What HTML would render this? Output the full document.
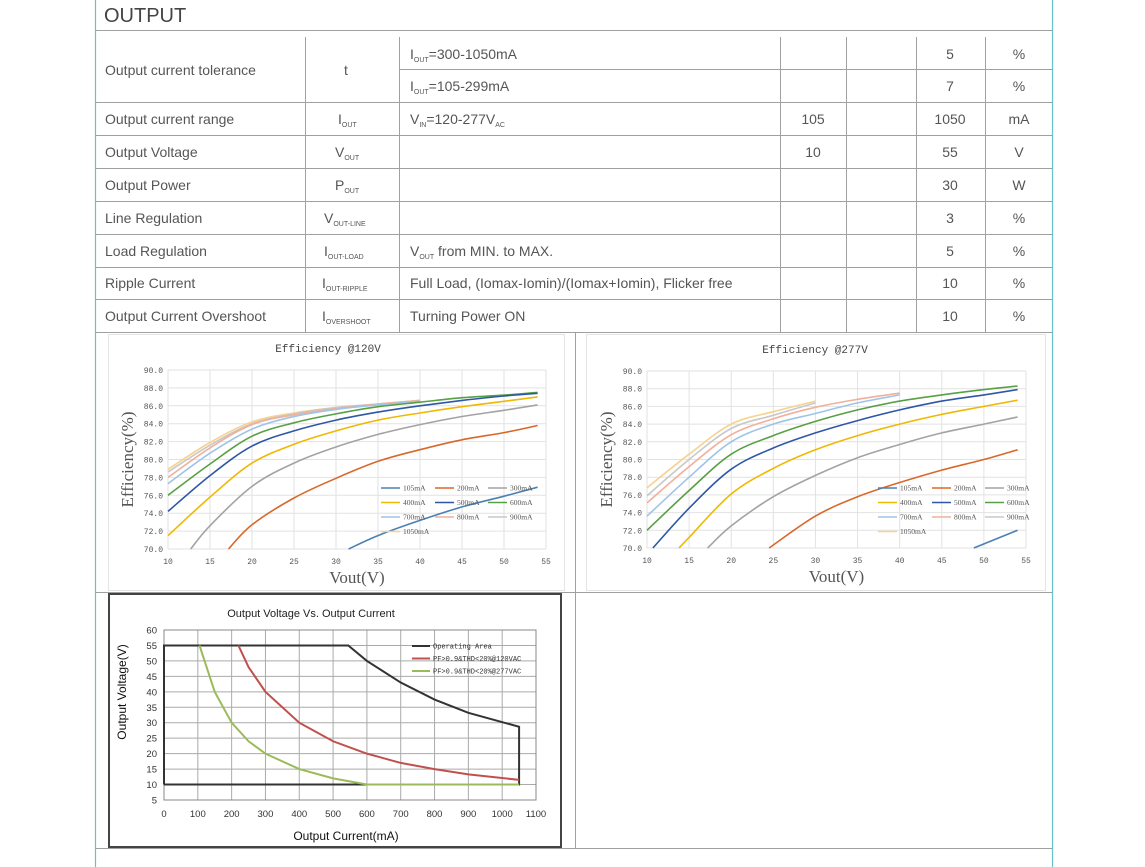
<!DOCTYPE html>
<html><head><meta charset="utf-8"><style>
html,body{margin:0;padding:0;background:#fff;}
svg{display:block;}
.t{font-family:"Liberation Sans",sans-serif;font-size:14px;fill:#555;}
.s{font-size:7px;}
.tk{font-family:"Liberation Mono",monospace;font-size:8px;fill:#555;}
.lg{font-family:"Liberation Serif",serif;font-size:7.5px;fill:#555;}
</style></head><body>
<svg id="s" width="1145" height="867" xmlns="http://www.w3.org/2000/svg">
<rect width="1145" height="867" fill="#fff"/>
<g stroke="#63c3c9" stroke-width="1.2"><line x1="95.5" y1="0" x2="95.5" y2="867"/><line x1="1052.5" y1="0" x2="1052.5" y2="867"/></g>
<g stroke="#a0a0a0" stroke-width="1">
<line x1="95" y1="30.5" x2="1052" y2="30.5"/>
<line x1="399" y1="69.5" x2="1052" y2="69.5"/>
<line x1="95" y1="102.5" x2="1052" y2="102.5"/>
<line x1="95" y1="135.5" x2="1052" y2="135.5"/>
<line x1="95" y1="168.5" x2="1052" y2="168.5"/>
<line x1="95" y1="201.5" x2="1052" y2="201.5"/>
<line x1="95" y1="234.5" x2="1052" y2="234.5"/>
<line x1="95" y1="267.5" x2="1052" y2="267.5"/>
<line x1="95" y1="299.5" x2="1052" y2="299.5"/>
<line x1="95" y1="332.5" x2="1052" y2="332.5"/>
<line x1="305.5" y1="37" x2="305.5" y2="332"/>
<line x1="399.5" y1="37" x2="399.5" y2="332"/>
<line x1="780.5" y1="37" x2="780.5" y2="332"/>
<line x1="846.5" y1="37" x2="846.5" y2="332"/>
<line x1="916.5" y1="37" x2="916.5" y2="332"/>
<line x1="985.5" y1="37" x2="985.5" y2="332"/>
<line x1="95" y1="592.5" x2="1052" y2="592.5"/>
<line x1="575.5" y1="332" x2="575.5" y2="848"/>
<line x1="95" y1="848.5" x2="1052" y2="848.5"/>
</g>
<text x="104" y="22" class="t" style="font-size:20px;fill:#444">OUTPUT</text>
<g class="t">
<text x="105" y="75">Output current tolerance</text>
<text x="344" y="75">t</text>
<text x="410" y="59">I<tspan class="s" dy="3">OUT</tspan><tspan dy="-3">=300-1050mA</tspan></text>
<text x="410" y="91">I<tspan class="s" dy="3">OUT</tspan><tspan dy="-3">=105-299mA</tspan></text>
<text x="950" y="59" text-anchor="middle">5</text><text x="1019" y="59" text-anchor="middle">%</text>
<text x="950" y="91" text-anchor="middle">7</text><text x="1019" y="91" text-anchor="middle">%</text>
<text x="105" y="124">Output current range</text>
<text x="338" y="124">I<tspan class="s" dy="3">OUT</tspan></text>
<text x="410" y="124">V<tspan class="s" dy="3">IN</tspan><tspan dy="-3">=120-277V</tspan><tspan class="s" dy="3">AC</tspan></text>
<text x="813" y="124" text-anchor="middle">105</text><text x="950" y="124" text-anchor="middle">1050</text><text x="1019" y="124" text-anchor="middle">mA</text>
<text x="105" y="157">Output Voltage</text>
<text x="335" y="157">V<tspan class="s" dy="3">OUT</tspan></text>
<text x="813" y="157" text-anchor="middle">10</text><text x="950" y="157" text-anchor="middle">55</text><text x="1019" y="157" text-anchor="middle">V</text>
<text x="105" y="190">Output Power</text>
<text x="335" y="190">P<tspan class="s" dy="3">OUT</tspan></text>
<text x="950" y="190" text-anchor="middle">30</text><text x="1019" y="190" text-anchor="middle">W</text>
<text x="105" y="223">Line Regulation</text>
<text x="324" y="223">V<tspan class="s" dy="3">OUT-LINE</tspan></text>
<text x="950" y="223" text-anchor="middle">3</text><text x="1019" y="223" text-anchor="middle">%</text>
<text x="105" y="256">Load Regulation</text>
<text x="324" y="256">I<tspan class="s" dy="3">OUT-LOAD</tspan></text>
<text x="410" y="256">V<tspan class="s" dy="3">OUT</tspan><tspan dy="-3"> from MIN. to MAX.</tspan></text>
<text x="950" y="256" text-anchor="middle">5</text><text x="1019" y="256" text-anchor="middle">%</text>
<text x="105" y="288">Ripple Current</text>
<text x="322" y="288">I<tspan class="s" dy="3">OUT-RIPPLE</tspan></text>
<text x="410" y="288">Full Load, (Iomax-Iomin)/(Iomax+Iomin), Flicker free</text>
<text x="950" y="288" text-anchor="middle">10</text><text x="1019" y="288" text-anchor="middle">%</text>
<text x="105" y="321">Output Current Overshoot</text>
<text x="322" y="321">I<tspan class="s" dy="3">OVERSHOOT</tspan></text>
<text x="410" y="321">Turning Power ON</text>
<text x="950" y="321" text-anchor="middle">10</text><text x="1019" y="321" text-anchor="middle">%</text>
</g>
<rect x="108.5" y="334.5" width="456" height="256" fill="none" stroke="#e4e4e4"/>
<rect x="586.5" y="334.5" width="459" height="256" fill="none" stroke="#e4e4e4"/>
<rect x="109" y="594" width="452" height="253" fill="none" stroke="#444" stroke-width="2"/>
<g id="g1"></g><g id="g2"></g><g id="g3"></g>
</svg>
<script>
var NS="http://www.w3.org/2000/svg";
function el(p,t,a,txt){var e=document.createElementNS(NS,t);for(var k in a)e.setAttribute(k,a[k]);if(txt!=null)e.textContent=txt;p.appendChild(e);return e;}
function smooth(pts){var d="M"+pts[0][0].toFixed(1)+","+pts[0][1].toFixed(1);
for(var i=0;i<pts.length-1;i++){var p0=pts[i-1]||pts[i],p1=pts[i],p2=pts[i+1],p3=pts[i+2]||p2;
var c1=[p1[0]+(p2[0]-p0[0])/6,p1[1]+(p2[1]-p0[1])/6],c2=[p2[0]-(p3[0]-p1[0])/6,p2[1]-(p3[1]-p1[1])/6];
d+="C"+c1[0].toFixed(1)+","+c1[1].toFixed(1)+" "+c2[0].toFixed(1)+","+c2[1].toFixed(1)+" "+p2[0].toFixed(1)+","+p2[1].toFixed(1);}return d;}
var cols={105:"#4a80b4",200:"#d8682a",300:"#a3a3a3",400:"#f0b800",500:"#2f57a6",600:"#57a043",700:"#9ec4e6",800:"#f0b09a",900:"#c8c8c8",1050:"#f6d28e"};
function eff(g,x0,x1,y0,y1,title,tx,data,lgx,lgy){
  var sx=function(v){return x0+(v-10)*(x1-x0)/45},sy=function(v){return y1-(v-70)*(y1-y0)/20};
  for(var v=10;v<=55;v+=5)el(g,"line",{x1:sx(v),x2:sx(v),y1:y0,y2:y1,stroke:"#e2e2e2"});
  for(var e=70;e<=90;e+=2){el(g,"line",{x1:x0,x2:x1,y1:sy(e),y2:sy(e),stroke:"#e2e2e2"});
    el(g,"text",{x:x0-5,y:sy(e)+3,"text-anchor":"end","class":"tk"},e.toFixed(1));}
  for(var v=10;v<=55;v+=5)el(g,"text",{x:sx(v),y:y1+15,"text-anchor":"middle","class":"tk"},v);
  el(g,"text",{x:tx,y:y0-18,"text-anchor":"middle","class":"tk",style:"font-size:11px;fill:#444"},title);
  el(g,"text",{x:0,y:0,"text-anchor":"middle",transform:"translate("+(x0-35)+","+((y0+y1)/2)+") rotate(-90)",style:"font-family:'Liberation Serif',serif;font-size:17px;fill:#555"},"Efficiency(%)");
  el(g,"text",{x:(x0+x1)/2,y:y1+34,"text-anchor":"middle",style:"font-family:'Liberation Serif',serif;font-size:17px;fill:#555"},"Vout(V)");
  var order=[105,200,300,400,500,600,700,800,900,1050];
  order.slice().reverse().forEach(function(k){var pts=data[k].map(function(p){return[sx(p[0]),sy(p[1])]});
    el(g,"path",{d:smooth(pts),fill:"none",stroke:cols[k],"stroke-width":1.6});});
  var cx=[0,54,107];
  order.forEach(function(k,i){var c=i%3,r=Math.floor(i/3),x=lgx+cx[c],y=lgy+r*14.5;
    el(g,"line",{x1:x,x2:x+19,y1:y,y2:y,stroke:cols[k],"stroke-width":1.6});
    el(g,"text",{x:x+22,y:y+2.5,"class":"lg"},k+"mA");});
}
var d1={1050:[[10,78.9],[15,81.9],[20,84.2],[25,85.2],[30,85.8],[35,86.2],[40,86.6]],
900:[[10,78.6],[15,81.6],[20,84.0],[25,85.1],[30,85.8],[35,86.2],[40,86.6]],
800:[[10,78.0],[15,81.3],[20,83.9],[25,85.0],[30,85.7],[35,86.2],[40,86.6]],
700:[[10,77.3],[15,80.7],[20,83.4],[25,84.8],[30,85.6],[35,86.1],[40,86.5]],
600:[[10,76.0],[15,79.5],[20,82.6],[25,84.1],[30,85.1],[35,85.9],[40,86.4],[45,86.9],[50,87.2],[54,87.5]],
500:[[10,74.2],[15,78.2],[20,81.5],[25,83.2],[30,84.4],[35,85.3],[40,86.0],[45,86.6],[50,87.1],[54,87.4]],
400:[[10,71.5],[15,75.8],[20,79.6],[25,81.7],[30,83.2],[35,84.4],[40,85.2],[45,85.9],[50,86.5],[54,87.0]],
300:[[12.7,70],[15,72.6],[20,77.0],[25,79.6],[30,81.4],[35,82.8],[40,83.9],[45,84.8],[50,85.5],[54,86.1]],
200:[[17.2,70],[20,72.7],[25,75.7],[30,77.9],[35,79.8],[40,81.1],[45,82.2],[50,83.0],[54,83.8]],
105:[[31.5,70],[35,71.5],[40,73.2],[45,74.7],[50,75.9],[54,76.9]]};
var d2={1050:[[10,76.8],[15,80.6],[20,84.0],[25,85.4],[30,86.6]],
900:[[10,75.9],[15,80.0],[20,83.5],[25,85.0],[30,86.4]],
800:[[10,75.1],[15,79.2],[20,82.8],[25,84.6],[30,85.9],[35,86.8],[40,87.5]],
700:[[10,73.6],[15,78.0],[20,82.0],[25,84.0],[30,85.2],[35,86.4],[40,87.3]],
600:[[10,72.0],[15,76.5],[20,80.6],[25,82.7],[30,84.3],[35,85.6],[40,86.6],[45,87.3],[50,87.9],[54,88.3]],
500:[[10.7,70],[15,74.5],[20,78.9],[25,81.3],[30,83.0],[35,84.4],[40,85.6],[45,86.6],[50,87.3],[54,87.9]],
400:[[13.8,70],[15,71.2],[20,76.1],[25,79.0],[30,81.1],[35,82.7],[40,84.0],[45,85.1],[50,86.0],[54,86.7]],
300:[[17.2,70],[20,72.5],[25,75.8],[30,78.2],[35,80.2],[40,81.7],[45,83.0],[50,84.0],[54,84.8]],
200:[[24.5,70],[30,73.6],[35,75.8],[40,77.4],[45,78.8],[50,80.0],[54,81.1]],
105:[[48.8,70],[54,72.0]]};
eff(document.getElementById("g1"),168,546,370,549,"Efficiency @120V",328,d1,381,488);
eff(document.getElementById("g2"),647,1026,371,548,"Efficiency @277V",815,d2,878,488);
(function(){var g=document.getElementById("g3"),x0=164,x1=536,y0=630,y1=800;
var sx=function(v){return x0+v*(x1-x0)/1100},sy=function(v){return y1-(v-5)*(y1-y0)/55};
for(var v=0;v<=1100;v+=100){el(g,"line",{x1:sx(v),x2:sx(v),y1:y0,y2:y1,stroke:"#aaa"});
 el(g,"text",{x:sx(v),y:y1+17,"text-anchor":"middle",style:"font-family:'Liberation Sans',sans-serif;font-size:9.5px;fill:#333"},v);}
for(var v=5;v<=60;v+=5){el(g,"line",{x1:x0,x2:x1,y1:sy(v),y2:sy(v),stroke:"#aaa"});
 el(g,"text",{x:x0-7,y:sy(v)+3.5,"text-anchor":"end",style:"font-family:'Liberation Sans',sans-serif;font-size:9.5px;fill:#333"},v);}
el(g,"rect",{x:x0,y:y0,width:x1-x0,height:y1-y0,fill:"none",stroke:"#888"});
el(g,"text",{x:311,y:617,"text-anchor":"middle",style:"font-family:'Liberation Sans',sans-serif;font-size:11px;fill:#222"},"Output Voltage Vs. Output Current");
el(g,"text",{x:346,y:840,"text-anchor":"middle",style:"font-family:'Liberation Sans',sans-serif;font-size:12px;fill:#111"},"Output Current(mA)");
el(g,"text",{x:0,y:0,"text-anchor":"middle",transform:"translate(126,692) rotate(-90)",style:"font-family:'Liberation Sans',sans-serif;font-size:12px;fill:#111"},"Output Voltage(V)");
function P(a){return a.map(function(p){return[sx(p[0]),sy(p[1])]});}
var blk=P([[0,10],[0,55],[545,55],[600,50],[700,43],[800,37.5],[900,33.2],[1050,28.7],[1050,10],[0,10]]);
el(g,"polyline",{points:blk.map(function(p){return p.join(",")}).join(" "),fill:"none",stroke:"#333","stroke-width":2});
var red=P([[220,55],[250,48],[300,40],[400,30],[500,24],[600,20],[700,17],[800,15],[900,13.3],[1050,11.5]]);
el(g,"polyline",{points:red.map(function(p){return p.join(",")}).join(" "),fill:"none",stroke:"#c0504d","stroke-width":2});
var grn=P([[105,55],[150,40],[200,30],[250,24],[300,20],[400,15],[500,12],[600,10],[1050,10]]);
el(g,"polyline",{points:grn.map(function(p){return p.join(",")}).join(" "),fill:"none",stroke:"#9bbb59","stroke-width":2});
var lg=[["#333","Operating Area"],["#c0504d","PF>0.9&THD<20%@120VAC"],["#9bbb59","PF>0.9&THD<20%@277VAC"]];
lg.forEach(function(l,i){var y=646+i*12.5;el(g,"line",{x1:412,x2:430,y1:y,y2:y,stroke:l[0],"stroke-width":2});
 el(g,"text",{x:433,y:y+2.5,style:"font-family:'Liberation Mono',monospace;font-size:7px;fill:#333"},l[1]);});
})();
</script>
</body></html>
